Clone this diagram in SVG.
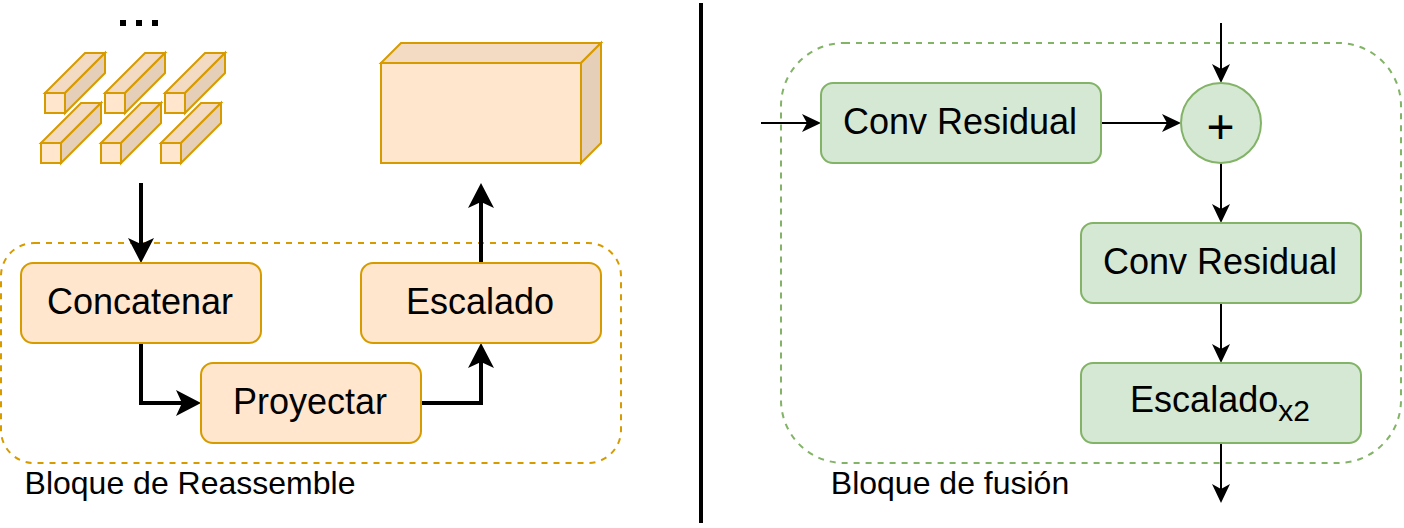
<svg xmlns="http://www.w3.org/2000/svg" width="1404" height="528" viewBox="0 0 1404 528">
<style>
text{font-family:"Liberation Sans",Arial,sans-serif;fill:#000;text-anchor:middle}
.n{font-size:36px}
.cap{font-size:32px}
.o{fill:#ffe6cc;stroke:#d79b00;stroke-width:2}
.g{fill:#d5e8d4;stroke:#82b366;stroke-width:2}
.top{fill:#f2dac3;stroke:#d79b00;stroke-width:2}
.side{fill:#e6cfb8;stroke:#d79b00;stroke-width:2}
.dash{fill:none;stroke-width:2;stroke-dasharray:6 6}
.c1{fill:none;stroke:#000;stroke-width:2}
.c2{fill:none;stroke:#000;stroke-width:4}
</style>
<defs>
<marker id="a" markerUnits="userSpaceOnUse" markerWidth="20" markerHeight="20" refX="13" refY="9" orient="auto" viewBox="0 0 20 20"><path d="M19 9L0 18L5 9L0 0Z" fill="#000"/></marker>
<marker id="b" markerUnits="userSpaceOnUse" markerWidth="28" markerHeight="28" refX="15" refY="13" orient="auto" viewBox="0 0 28 28"><path d="M25 13L0 26L6 13L0 0Z" fill="#000"/></marker>
<g id="cub">
<path class="top" d="M0 40L40 0h20L20 40z"/>
<path class="side" d="M20 40L60 0v20L20 60z"/>
<path class="o" d="M0 40h20v20H0z"/>
</g>
</defs>
<rect x="1" y="243" width="620" height="220" rx="33" class="dash" stroke="#d79b00"/>
<rect x="781" y="43" width="620" height="420" rx="63" class="dash" stroke="#82b366"/>
<g id="patches">
<use href="#cub" x="45" y="53"/><use href="#cub" x="105" y="53"/><use href="#cub" x="165" y="53"/>
<use href="#cub" x="41" y="103"/><use href="#cub" x="101" y="103"/><use href="#cub" x="161" y="103"/>
</g>
<g id="dots"><rect x="120" y="20" width="6" height="6"/><rect x="136" y="20" width="6" height="6"/><rect x="152" y="20" width="6" height="6"/></g>
<g id="volume">
<path class="top" d="M381 63L401 43H601L581 63z"/>
<path class="side" d="M581 63L601 43V143L581 163z"/>
<rect class="o" x="381" y="63" width="200" height="100"/>
</g>
<g id="connectors">
<path class="c2" d="M141 183V253" marker-end="url(#b)"/>
<path class="c2" d="M141 343V403H191" marker-end="url(#b)"/>
<path class="c2" d="M421 403H481V353" marker-end="url(#b)"/>
<path class="c2" d="M481 263V193" marker-end="url(#b)"/>
<path d="M701 3V523" fill="none" stroke="#000" stroke-width="4"/>
<path class="c1" d="M761 123H815" marker-end="url(#a)"/>
<path class="c1" d="M1101 123H1175" marker-end="url(#a)"/>
<path class="c1" d="M1221 23V77" marker-end="url(#a)"/>
<path class="c1" d="M1221 163V217" marker-end="url(#a)"/>
<path class="c1" d="M1221 303V357" marker-end="url(#a)"/>
<path class="c1" d="M1221 443V497" marker-end="url(#a)"/>
</g>
<g id="concatenar"><rect class="o" x="21" y="263" width="240" height="80" rx="12"/><text class="n" x="140" y="314">Concatenar</text></g>
<g id="escalado"><rect class="o" x="361" y="263" width="240" height="80" rx="12"/><text class="n" x="480" y="314">Escalado</text></g>
<g id="proyectar"><rect class="o" x="201" y="363" width="220" height="80" rx="12"/><text class="n" x="310" y="414">Proyectar</text></g>
<g id="conv1"><rect class="g" x="821" y="83" width="280" height="80" rx="12"/><text class="n" x="960" y="134">Conv Residual</text></g>
<g id="conv2"><rect class="g" x="1081" y="223" width="280" height="80" rx="12"/><text class="n" x="1220" y="274">Conv Residual</text></g>
<g id="escalado2"><rect class="g" x="1081" y="363" width="280" height="80" rx="12"/><text class="n" x="1220" y="412">Escalado<tspan dy="9" style="font-size:30px">x2</tspan></text></g>
<g id="suma"><circle class="g" cx="1221" cy="123" r="40"/><text x="1220.500" y="143" style="font-size:48px">+</text></g>
<text class="cap" x="190" y="494">Bloque de Reassemble</text>
<text class="cap" x="950" y="494">Bloque de fusión</text>
</svg>
